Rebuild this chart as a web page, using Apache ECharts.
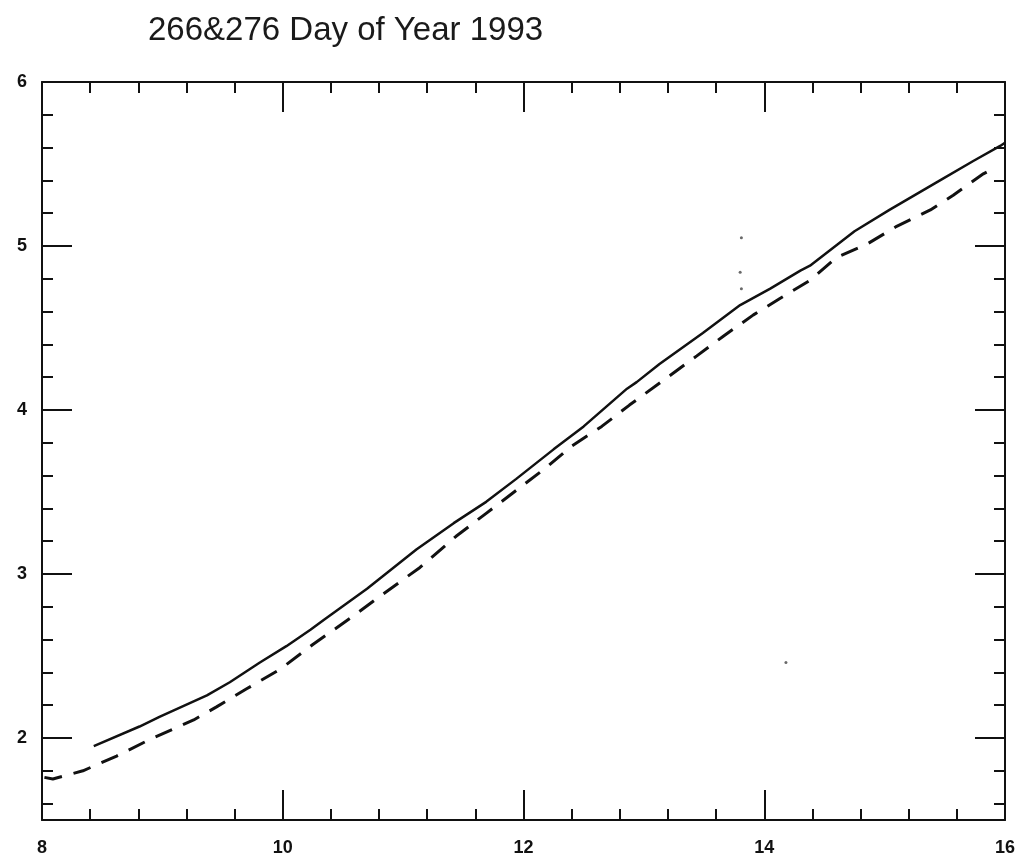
<!DOCTYPE html>
<html>
<head>
<meta charset="utf-8">
<style>
  html, body { margin: 0; padding: 0; background: #fff; }
  #chart { width: 1019px; height: 861px; }
</style>
<script src="https://cdn.jsdelivr.net/npm/echarts@6/dist/echarts.min.js"></script>
</head>
<body>
<div id="chart"></div>
<script>
const titleText = '266&276 Day of Year 1993';
const xTickLabels = [8, 10, 12, 14, 16];
const yTickLabels = [2, 3, 4, 5, 6];

const solidLine = [
  [8.43, 1.95], [8.81, 2.07], [8.98, 2.13], [9.37, 2.26], [9.56, 2.34],
  [9.81, 2.46], [10.03, 2.56], [10.23, 2.66], [10.34, 2.72], [10.70, 2.91],
  [11.11, 3.15], [11.42, 3.31], [11.69, 3.44], [11.94, 3.58], [12.25, 3.76],
  [12.50, 3.90], [12.86, 4.13], [12.94, 4.17], [13.13, 4.28], [13.49, 4.47],
  [13.80, 4.64], [14.05, 4.74], [14.30, 4.85], [14.38, 4.88], [14.75, 5.09],
  [15.04, 5.22], [15.46, 5.40], [15.74, 5.52], [15.96, 5.61], [16.0, 5.63]
];

const dashedLine = [
  [8.02, 1.76], [8.09, 1.75], [8.34, 1.80], [8.62, 1.89], [8.92, 2.00],
  [9.26, 2.11], [9.45, 2.19], [9.70, 2.30], [9.98, 2.42], [10.25, 2.57],
  [10.56, 2.73], [10.80, 2.86], [11.14, 3.04], [11.44, 3.23], [11.69, 3.37],
  [11.94, 3.51], [12.19, 3.65], [12.40, 3.78], [12.65, 3.90], [12.88, 4.03],
  [13.16, 4.18], [13.44, 4.33], [13.66, 4.45], [13.91, 4.58], [14.13, 4.68],
  [14.38, 4.79], [14.60, 4.93], [14.85, 5.01], [15.10, 5.12], [15.38, 5.22],
  [15.57, 5.31], [15.82, 5.44], [15.90, 5.47]
];

const specks = [[13.81, 5.05], [13.80, 4.84], [13.81, 4.74], [14.18, 2.46]];

const ink = '#111';
const font = "'Liberation Sans', Arial, Helvetica, sans-serif";

function xAxisDef(pos, showLabels) {
  return {
    type: 'value', position: pos, min: 8, max: 16, interval: 2,
    axisLine: { show: true, onZero: false, lineStyle: { color: ink, width: 2 } },
    axisTick: { show: true, inside: true, length: 30, lineStyle: { color: ink, width: 2 } },
    minorTick: { show: true, splitNumber: 5, length: 11, lineStyle: { color: ink, width: 2 } },
    splitLine: { show: false }, minorSplitLine: { show: false },
    axisLabel: {
      show: showLabels, margin: 19, color: ink, fontSize: 18, fontWeight: 'bold', fontFamily: font,
      formatter: v => xTickLabels.includes(v) ? String(v) : ''
    }
  };
}
function yAxisDef(pos, showLabels) {
  return {
    type: 'value', position: pos, min: 1.5, max: 6, splitNumber: 5,
    axisLine: { show: true, onZero: false, lineStyle: { color: ink, width: 2 } },
    axisTick: { show: true, inside: true, length: 30, lineStyle: { color: ink, width: 2 } },
    minorTick: { show: true, splitNumber: 5, length: 11, lineStyle: { color: ink, width: 2 } },
    splitLine: { show: false }, minorSplitLine: { show: false },
    axisLabel: {
      show: showLabels, margin: 15, color: ink, fontSize: 18, fontWeight: 'bold', fontFamily: font,
      formatter: v => yTickLabels.includes(v) ? String(v) : ''
    }
  };
}

const chart = echarts.init(document.getElementById('chart'), null, { renderer: 'canvas' });
chart.setOption({
  backgroundColor: '#fff',
  animation: false,
  title: {
    text: titleText, left: 143, top: 9,
    textStyle: { color: '#1a1a1a', fontSize: 33, fontWeight: 'normal', fontFamily: font }
  },
  grid: { left: 42, right: 14, top: 82, bottom: 41, containLabel: false },
  xAxis: [xAxisDef('bottom', true), xAxisDef('top', false)],
  yAxis: [yAxisDef('left', true), yAxisDef('right', false)],
  series: [
    {
      type: 'line', data: solidLine, xAxisIndex: 0, yAxisIndex: 0,
      showSymbol: false, symbol: 'none', smooth: false,
      lineStyle: { color: ink, width: 2.5 }
    },
    {
      type: 'line', data: dashedLine, xAxisIndex: 0, yAxisIndex: 0,
      showSymbol: false, symbol: 'none', smooth: false,
      lineStyle: { color: ink, width: 3, type: [18, 12] }
    },
    {
      type: 'scatter', data: specks, xAxisIndex: 0, yAxisIndex: 0,
      symbolSize: 3, itemStyle: { color: '#444' }, silent: true
    }
  ]
});
</script>
</body>
</html>
